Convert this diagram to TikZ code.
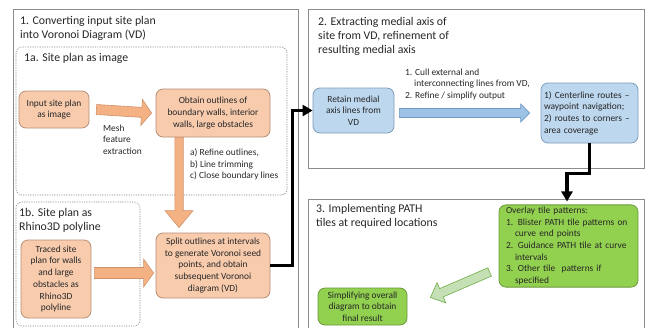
\documentclass[tikz,border=0pt]{standalone}
\usepackage{fontspec}
\setmainfont{Carlito}
\usetikzlibrary{arrows.meta, positioning, calc}
\definecolor{orangefill}{HTML}{F8CBAD}
\definecolor{orangeline}{HTML}{B58F78}
\definecolor{orangearrow}{HTML}{F4B183}
\definecolor{orangearrowline}{HTML}{D0926A}
\definecolor{bluefill}{HTML}{BDD7EE}
\definecolor{blueline}{HTML}{7F9DBB}
\definecolor{bluearrow}{HTML}{9DC3E6}
\definecolor{bluearrowline}{HTML}{6F97C4}
\definecolor{greenfill}{HTML}{92D050}
\definecolor{greenline}{HTML}{6B9A3C}
\definecolor{greenarrow}{HTML}{C5E0B4}
\definecolor{greenarrowline}{HTML}{70AD47}
\definecolor{frameline}{HTML}{8C8C8C}
\definecolor{textdark}{HTML}{262626}
\newcommand{\titlefont}{\fontsize{11.8}{14}\selectfont}
\newcommand{\bodyfont}{\fontsize{9.4}{11.7}\selectfont}
\newcommand{\hang}{\hspace*{9pt}}

% block arrow: style, tail, tip, shaft half width, head half width, head length
\newcommand{\blockarrow}[6]{%
  \coordinate (bahead) at ($(#3)!#6!(#2)$);
  \draw[#1] ($(#2)!#4!90:(#3)$) -- ($(bahead)!#4!-90:(#2)$) -- ($(bahead)!#5!-90:(#2)$) -- (#3)
    -- ($(bahead)!#5!90:(#2)$) -- ($(bahead)!#4!90:(#2)$) -- ($(#2)!#4!-90:(#3)$) -- cycle;}

\tikzset{
  panel/.style={draw=frameline, line width=0.8pt},
  subpanel/.style={draw=frameline, dash pattern=on 1.2pt off 1.2pt, rounded corners=6pt, line width=0.6pt},
  stepbox/.style={rounded corners=7pt, line width=0.8pt, align=center, font=\bodyfont, text=textdark, inner sep=2pt},
  orangebox/.style={stepbox, draw=orangeline, fill=orangefill},
  bluebox/.style={stepbox, draw=blueline, fill=bluefill},
  greenbox/.style={stepbox, draw=greenline, fill=greenfill},
  titletext/.style={anchor=north west, inner sep=0pt, align=left, font=\titlefont, text=textdark},
  notetext/.style={anchor=north west, inner sep=0pt, align=left, font=\bodyfont, text=textdark},
  flow/.style={line width=3.5pt, -{Triangle[length=10pt,width=11pt]}},
  orangearrow/.style={draw=orangearrowline, fill=orangearrow, line width=0.6pt},
  bluearrowstyle/.style={draw=bluearrowline, fill=bluearrow, line width=0.6pt},
  greenarrowstyle/.style={draw=greenarrowline, fill=greenarrow, line width=0.6pt}
}

\begin{document}
\begin{tikzpicture}[x=1pt, y=-1pt]
  \useasboundingbox (0,0) rectangle (647,327);

  % panels
  \draw[panel] (13,330) -- (13,9) -- (298,9) -- (298,330);
  \draw[panel] (308,9) rectangle (644,168);
  \draw[panel] (308,330) -- (308,199) -- (644,199) -- (644,330);
  \draw[subpanel] (16,47) rectangle (287,195);
  \draw[subpanel] (16,202) rectangle (140,326);

  % titles
  \node[titletext] (title1) at (20,16) {1. Converting input site plan\\into Voronoi Diagram (VD)};
  \node[titletext] (title1a) at (24,53.5) {1a. Site plan as image};
  \node[titletext] (title1b) at (19,208.5) {1b. Site plan as\\Rhino3D polyline};
  \node[titletext] (title2) at (318,17.5) {2. Extracting medial axis of\\site from VD, refinement of\\resulting medial axis};
  \node[titletext] (title3) at (316,204.5) {3. Implementing PATH\\tiles at required locations};

  % step boxes
  \node[orangebox, minimum width=70pt, minimum height=37pt] (input) at (54,109.5) {Input site plan\\as image};
  \node[orangebox, minimum width=114pt, minimum height=48pt] (outlines) at (213,113) {Obtain outlines of\\boundary walls, interior\\walls, large obstacles};
  \node[orangebox, minimum width=70pt, minimum height=78pt] (traced) at (56,279) {Traced site\\plan for walls\\and large\\obstacles as\\Rhino3D\\polyline};
  \node[orangebox, minimum width=114pt, minimum height=65pt] (split) at (213,265.5) {Split outlines at intervals\\to generate Voronoi seed\\points, and obtain\\subsequent Voronoi\\diagram (VD)};
  \node[bluebox, minimum width=81pt, minimum height=45pt] (retain) at (353.5,110.5) {Retain medial\\axis lines from\\VD};
  \node[bluebox, align=left, text width=91pt, inner xsep=3pt, minimum height=60pt] (routes) at (589.5,113) {1) Centerline routes --\\waypoint navigation;\\2) routes to corners --\\area coverage};
  \node[greenbox, align=left, text width=125pt, inner xsep=7pt, minimum height=82pt] (overlay) at (568.5,246) {Overlay tile patterns:\\1. Blister PATH tile patterns on\\\hang curve end points\\2. Guidance PATH tile at curve\\\hang intervals\\3. Other tile~ patterns if\\\hang specified};
  \node[greenbox, minimum width=89pt, minimum height=37pt] (simplify) at (362.5,306.5) {Simplifying overall\\diagram to obtain\\final result};

  % notes
  \node[notetext] (mesh) at (103,124.5) {Mesh\\feature\\extraction};
  \node[notetext] (refine) at (190,148.5) {a) Refine outlines,\\b) Line trimming\\c) Close boundary lines};
  \node[notetext] (cull) at (405,68.5) {1. Cull external and\\\hang interconnecting lines from VD,\\2. Refine / simplify output};

  % block arrows
  \coordinate (a1) at ($(input.east)+(7,0)$);
  \coordinate (b1) at ($(outlines.west)+(-4,0)$);
  \blockarrow{orangearrow}{a1}{b1}{5pt}{13pt}{10pt}
  \coordinate (a2) at ($(outlines.south)+(-34,0)$);
  \coordinate (b2) at ($(split.north)+(-34,-5)$);
  \blockarrow{orangearrow}{a2}{b2}{4.2pt}{14pt}{17pt}
  \coordinate (a3) at ($(traced.east)+(3,-6)$);
  \coordinate (b3) at ($(split.west)+(-2,7.5)$);
  \blockarrow{orangearrow}{a3}{b3}{5.5pt}{14pt}{10pt}
  \coordinate (a4) at ($(retain.east)+(5,2.5)$);
  \coordinate (b4) at ($(routes.west)+(-11,0)$);
  \blockarrow{bluearrowstyle}{a4}{b4}{4.5pt}{9pt}{9pt}
  \coordinate (a5) at ($(overlay.west)+(-9,26)$);
  \coordinate (b5) at ($(simplify.east)+(23,-9)$);
  \blockarrow{greenarrowstyle}{a5}{b5}{4.5pt}{11pt}{12pt}

  % flow connectors
  \draw[flow] (split.east) -- ++(22,0) |- (retain.west);
  \draw[flow] (routes.south) -- ++(0,30) -| ($(overlay.north)+(-1.5,-3)$);
\end{tikzpicture}
\end{document}
